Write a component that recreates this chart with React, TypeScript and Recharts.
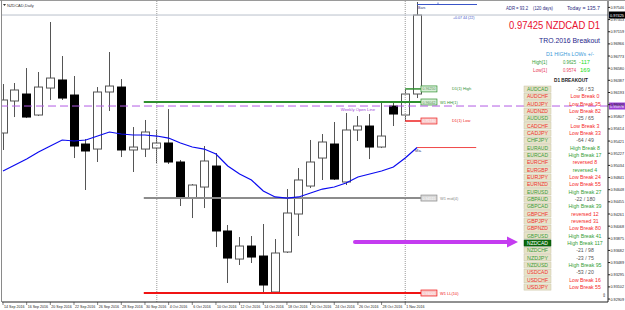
import React from 'react';
import { ComposedChart, Bar, Line, XAxis, YAxis, ReferenceLine, ReferenceDot } from 'recharts';

const dates = ['14 Sep 2016','15 Sep 2016','16 Sep 2016','19 Sep 2016','20 Sep 2016','21 Sep 2016','22 Sep 2016','23 Sep 2016','26 Sep 2016','27 Sep 2016','28 Sep 2016','29 Sep 2016','30 Sep 2016','3 Oct 2016','4 Oct 2016','5 Oct 2016','6 Oct 2016','7 Oct 2016','10 Oct 2016','11 Oct 2016','12 Oct 2016','13 Oct 2016','14 Oct 2016','17 Oct 2016','18 Oct 2016','19 Oct 2016','20 Oct 2016','21 Oct 2016','24 Oct 2016','25 Oct 2016','26 Oct 2016','27 Oct 2016','28 Oct 2016','31 Oct 2016','1 Nov 2016','2 Nov 2016'];
const opens = [0.95549,0.96058,0.96169,0.95835,0.96264,0.96392,0.96153,0.95374,0.95294,0.96201,0.96280,0.95279,0.95294,0.95310,0.95390,0.95088,0.94515,0.94690,0.95024,0.93991,0.93545,0.93752,0.93593,0.93021,0.93657,0.94261,0.94706,0.95151,0.95374,0.94770,0.95597,0.95660,0.95326,0.95978,0.95835,0.96169];
const highs = [0.96328,0.96344,0.96582,0.96519,0.97314,0.96773,0.96455,0.95453,0.96280,0.96837,0.96407,0.95644,0.95756,0.95597,0.95930,0.95120,0.94738,0.95342,0.95231,0.94086,0.93895,0.93911,0.94102,0.93863,0.94658,0.94992,0.95438,0.95533,0.95724,0.95867,0.95819,0.95851,0.96042,0.96042,0.96250,0.97632];
const lows = [0.95279,0.95803,0.95787,0.95819,0.96074,0.96074,0.95151,0.94643,0.95088,0.95899,0.95167,0.94929,0.95167,0.95072,0.95056,0.94388,0.94197,0.94356,0.93736,0.93164,0.93450,0.93482,0.93005,0.93005,0.93641,0.93911,0.94674,0.94802,0.94802,0.94722,0.95422,0.95135,0.95310,0.95660,0.95740,0.96105];
const closes = [0.96074,0.96233,0.95803,0.96280,0.96423,0.96105,0.95342,0.95263,0.96201,0.96296,0.95279,0.95326,0.95565,0.95390,0.95088,0.94515,0.94722,0.95104,0.93991,0.93561,0.93752,0.93577,0.93132,0.93641,0.94277,0.94802,0.95088,0.95406,0.94817,0.95597,0.95660,0.95326,0.95501,0.95851,0.96169,0.97425];
const maValues = [0.94945,0.95040,0.95135,0.95247,0.95342,0.95438,0.95422,0.95438,0.95501,0.95565,0.95533,0.95517,0.95517,0.95501,0.95469,0.95390,0.95326,0.95294,0.95215,0.95024,0.94897,0.94802,0.94627,0.94532,0.94515,0.94532,0.94595,0.94658,0.94690,0.94754,0.94849,0.94897,0.94945,0.95008,0.95151,0.95318];

const dateTickIndices = [0,2,4,6,8,10,12,14,16,18,20,22,24,26,28,30,32,34];
const priceTicks = [0.92909,0.93102,0.93295,0.93489,0.93682,0.93875,0.94068,0.94261,0.94455,0.94648,0.94841,0.95034,0.95227,0.95421,0.95614,0.95807,0.96000,0.96193,0.96387,0.96580,0.96773,0.96966,0.97159,0.97353,0.97546];
const monthStarts = [13, 34];

const bid = 0.97425;
const d1High = 0.96250;
const d1Low = 0.95740;
const w1High = 0.96042;
const weeklyOpen = 0.95978;
const w1Mid = 0.94515;
const w1Low = 0.93005;
const maTag = 0.95318;

const pairs = ['AUDCAD','AUDCHF','AUDJPY','AUDNZD','AUDUSD','CADCHF','CADJPY','CHFJPY','EURAUD','EURCAD','EURCHF','EURGBP','EURJPY','EURNZD','EURUSD','GBPAUD','GBPCAD','GBPCHF','GBPJPY','GBPNZD','GBPUSD','NZDCAD','NZDCHF','NZDJPY','NZDUSD','USDCAD','USDCHF','USDJPY'];
const pairTrend = ['g','r','r','r','g','r','r','g','g','g','r','r','r','r','g','g','g','r','r','r','g','s','g','g','g','r','r','r'];
const statusText = ['-36 / 53','Low Break 0','Low Break 35','Low Break 82','-25 / 65','Low Break 3','Low Break 33','-64 / 49','High Break 8','High Break 17','reversed 8','reversed 4','Low Break 24','Low Break 55','High Break 27','-22 / 180','High Break 39','reversed 12','reversed 31','Low Break 80','High Break 41','High Break 117','-21 / 98','-23 / 75','High Break 95','-53 / 20','Low Break 16','Low Break 55'];
const statusTone = ['n','r','r','r','n','r','r','n','g','g','r','g','r','r','g','n','g','r','r','r','g','g','n','n','g','n','r','r'];

const data = dates.map((d, i) => ({ i, date: d, open: opens[i], high: highs[i], low: lows[i], close: closes[i], ma: maValues[i] }));

const FONT = 'Liberation Sans, Arial, sans-serif';

const Candle = (props: any) => {
  const { x, y, width, height, payload } = props;
  if (x == null || y == null || !payload) return null;
  const { open, close, high, low } = payload;
  const k = height / (high - low);
  const yo = y + (high - open) * k;
  const yc = y + (high - close) * k;
  const top = Math.min(yo, yc);
  const bot = Math.max(yo, yc);
  const cx = Math.round(x + width / 2) + 0.5;
  const bull = close >= open;
  return (
    <g>
      <line x1={cx} x2={cx} y1={y} y2={y + height} stroke="#555" strokeWidth={1} />
      <rect x={cx - 4} y={top} width={8} height={Math.max(bot - top, 1)} fill={bull ? '#ffffff' : '#000000'} stroke={bull ? '#555' : '#000'} strokeWidth={1} />
    </g>
  );
};

const AxisBox = ({ vb, fill, text }: any) => {
  if (!vb) return null;
  const x = vb.x + vb.width + 1;
  return (
    <g>
      <rect x={x} y={vb.y - 3.5} width={16} height={7} fill={fill} />
      <text x={x + 1} y={vb.y + 1.5} fontSize={4.2} fill="#fff" fontFamily={FONT} textLength={14} lengthAdjust="spacingAndGlyphs">{text}</text>
    </g>
  );
};

const LevelTag = ({ vb, color, boxFill, textColor, value, name, nameDx }: any) => {
  if (!vb) return null;
  const x = vb.x + vb.width;
  return (
    <g>
      <rect x={x} y={vb.y - 3} width={16} height={6} fill={boxFill} stroke={color} strokeWidth={0.7} />
      <text x={x + 1.5} y={vb.y + 1.5} fontSize={4} fill={textColor} fontFamily={FONT} textLength={13} lengthAdjust="spacingAndGlyphs">{value}</text>
      <text x={x + nameDx} y={vb.y + 1.5} fontSize={4} fill={color} fontFamily={FONT}>{name}</text>
    </g>
  );
};

const DateTick = (p: any) => {
  const { x, payload } = p;
  return (
    <g>
      <line x1={x} x2={x} y1={302} y2={305} stroke="#333" strokeWidth={0.6} />
      <text x={x + 1} y={307.5} fontSize={3.6} fill="#222" fontFamily={FONT}>{dates[payload.value]}</text>
    </g>
  );
};

const PriceTick = (p: any) => {
  const { x, y, payload } = p;
  return (
    <text x={x - 0.5} y={y + 1.5} fontSize={3.9} fill="#222" fontFamily={FONT} textLength={13.5} lengthAdjust="spacingAndGlyphs">{payload.value.toFixed(5)}</text>
  );
};

const toneColor: any = { r: '#f52a2a', g: '#35a035', n: '#555555' };
const pairColor: any = { r: '#ee3030', g: '#3a9a3a', s: '#ffffff' };

export default function App() {
  const rowY0 = 89;
  const rowStep = 7.33;
  return (
    <div style={{ position: 'absolute', left: 0, top: 0, width: 625, height: 310, background: '#fff', overflow: 'hidden' }}>
      <ComposedChart width={625} height={310} data={data} margin={{ top: 1, right: 0, left: 2, bottom: 0 }}>
        <XAxis type="number" dataKey="i" domain={[-0.085, 51.14]} allowDataOverflow ticks={dateTickIndices} tick={<DateTick />} tickLine={false} height={8} axisLine={{ stroke: '#222' }} interval={0} />
        <YAxis orientation="right" domain={[0.92862, 0.97648]} allowDataOverflow ticks={priceTicks} tick={<PriceTick />} tickSize={2} tickMargin={1} width={17} axisLine={{ stroke: '#222' }} tickLine={{ stroke: '#222' }} interval={0} />
        {monthStarts.map((m) => (
          <ReferenceLine key={m} x={m} stroke="#999" strokeDasharray="1 1" />
        ))}
        <ReferenceLine y={bid} stroke="#b9c0cc" label={(p: any) => <AxisBox vb={p.viewBox} fill="#000" text={bid.toFixed(5)} />} />
        <ReferenceLine segment={[{ x: 11.9, y: w1High }, { x: 35.33, y: w1High }]} stroke="#2f8f2f" strokeWidth={2}
          label={(p: any) => <LevelTag vb={p.viewBox} color="#2f8f2f" boxFill="#d9f0d9" textColor="#5a8a5a" value={w1High.toFixed(5)} name="W1 HH(1)" nameDx={19} />} />
        <ReferenceLine y={weeklyOpen} stroke="#b35ce4" strokeDasharray="8 4" label={(p: any) => <AxisBox vb={p.viewBox} fill="#9b3fd6" text={weeklyOpen.toFixed(5)} />} />
        <ReferenceDot x={30} y={weeklyOpen} r={0} shape={(p: any) => <text x={p.cx} y={p.cy + 5} textAnchor="middle" fontSize={4.2} fill="#a040d8" fontFamily={FONT}>Weekly Open Line</text>} />
        <ReferenceLine segment={[{ x: 34, y: d1High }, { x: 35.33, y: d1High }]} stroke="#2f8f2f" strokeWidth={1.5}
          label={(p: any) => <LevelTag vb={p.viewBox} color="#2f8f2f" boxFill="#d9f0d9" textColor="#5a8a5a" value={d1High.toFixed(5)} name="D1(1) High" nameDx={31} />} />
        <ReferenceLine segment={[{ x: 34, y: d1Low }, { x: 35.33, y: d1Low }]} stroke="#ee2020" strokeWidth={1.5}
          label={(p: any) => <LevelTag vb={p.viewBox} color="#ee2020" boxFill="#f8c6c6" textColor="#ffffff" value={d1Low.toFixed(5)} name="D1(1) Low" nameDx={31} />} />
        <ReferenceLine segment={[{ x: 11.9, y: w1Mid }, { x: 35.33, y: w1Mid }]} stroke="#8c8c8c" strokeWidth={2}
          label={(p: any) => <LevelTag vb={p.viewBox} color="#8c8c8c" boxFill="#d8d8d8" textColor="#ffffff" value={w1Mid.toFixed(5)} name="W1 mid(4)" nameDx={19} />} />
        <ReferenceLine segment={[{ x: 11.9, y: w1Low }, { x: 35.33, y: w1Low }]} stroke="#f01414" strokeWidth={2}
          label={(p: any) => <LevelTag vb={p.viewBox} color="#f01414" boxFill="#f8c6c6" textColor="#ffffff" value={w1Low.toFixed(5)} name="W1 LL(10)" nameDx={19} />} />
        <ReferenceLine segment={[{ x: 35, y: maTag }, { x: 40, y: maTag }]} stroke="#f04848" strokeWidth={1}
          label={(p: any) => p.viewBox ? <text x={p.viewBox.x - 2} y={p.viewBox.y + 4.5} fontSize={4} fill="#33336a" fontFamily={FONT}>Ma.</text> : null} />
        <Bar dataKey={(d: any) => [d.low, d.high]} barSize={9} shape={(p: any) => <Candle {...p} />} isAnimationActive={false} />
        <Line dataKey="ma" stroke="#0a0af0" strokeWidth={1.2} dot={false} isAnimationActive={false} />
      </ComposedChart>
      <svg width={625} height={310} style={{ position: 'absolute', left: 0, top: 0, pointerEvents: 'none' }} fontFamily={FONT}>
        <line x1={0} x2={625} y1={0.5} y2={0.5} stroke="#9a9a9a" />
        <line x1={1.5} x2={1.5} y1={0} y2={302} stroke="#8a8a8a" />
        <polygon points="3,4 6,4 4.5,6" fill="#333" />
        <text x={7} y={6.5} fontSize={4} fill="#333">NZDCAD,Daily</text>
        <line x1={417} x2={477} y1={4.5} y2={4.5} stroke="#3a55c8" strokeWidth={1} />
        <line x1={438} x2={438} y1={2.5} y2={4.5} stroke="#3a55c8" strokeWidth={0.8} />
        <text x={418} y={9} fontSize={3.6} fill="#33338a">Bars</text>
        <text x={453} y={18.5} fontSize={3.6} fill="#3a55c8">+0.07 44 (22)</text>
        <text x={506} y={10} fontSize={5.4} fill="#2a2a80" textLength={22} lengthAdjust="spacingAndGlyphs">ADR = 93.2</text>
        <text x={533} y={10} fontSize={5.4} fill="#2a2a80" textLength={20} lengthAdjust="spacingAndGlyphs">(120 days)</text>
        <text x={567} y={10} fontSize={5.4} fill="#2a2a80" textLength={33} lengthAdjust="spacingAndGlyphs">Today = 135.7</text>
        <text x={509} y={29} fontSize={10.5} fill="#e8102f" textLength={91} lengthAdjust="spacingAndGlyphs">0.97425 NZDCAD D1</text>
        <text x={539} y={43} fontSize={7.2} fill="#1e1e8a" textLength={61} lengthAdjust="spacingAndGlyphs">TRO.2016 Breakout</text>
        <text x={546} y={55.5} fontSize={5} fill="#3a9ad8" textLength={48} lengthAdjust="spacingAndGlyphs">D1 HIGHs LOWs +/-</text>
        <text x={532} y={64} fontSize={5} fill="#35a035" textLength={15} lengthAdjust="spacingAndGlyphs">High[1]</text>
        <text x={563} y={64} fontSize={5} fill="#35a035" textLength={13} lengthAdjust="spacingAndGlyphs">0.9625</text>
        <text x={579} y={64} fontSize={5} fill="#22dd22" textLength={11} lengthAdjust="spacingAndGlyphs">-117</text>
        <text x={533} y={72} fontSize={5} fill="#e83a5a" textLength={14} lengthAdjust="spacingAndGlyphs">Low[1]</text>
        <text x={563} y={72} fontSize={5} fill="#e83a5a" textLength={13} lengthAdjust="spacingAndGlyphs">0.9574</text>
        <text x={580} y={72} fontSize={5} fill="#22dd22" textLength={10} lengthAdjust="spacingAndGlyphs">169</text>
        <text x={554} y={82} fontSize={5} fill="#222" fontWeight="bold" textLength={34} lengthAdjust="spacingAndGlyphs">D1 BREAKOUT</text>
        {pairs.map((p, k) => {
          const cy = rowY0 + rowStep * k;
          const sel = pairTrend[k] === 's';
          return (
            <g key={p}>
              <rect x={524} y={cy - 3} width={27} height={6.2} fill={sel ? '#0b6b0b' : '#e7e3c9'} stroke={sel ? '#064406' : '#c9c4a6'} strokeWidth={0.5} />
              <text x={527} y={cy + 2} fontSize={5} fill={pairColor[pairTrend[k]]} textLength={21} lengthAdjust="spacingAndGlyphs">{p}</text>
              <text x={585} y={cy + 2} fontSize={5.2} textAnchor="middle" fill={toneColor[statusTone[k]]}>{statusText[k]}</text>
            </g>
          );
        })}
        <line x1={355} x2={509} y1={242} y2={242} stroke="#c43cf0" strokeWidth={4} strokeLinecap="round" />
        <polygon points="507,236.5 518,242 507,247.5" fill="#c43cf0" />
        <text x={602} y={297} fontSize={5} fill="#555">⇕</text>
      </svg>
    </div>
  );
}
